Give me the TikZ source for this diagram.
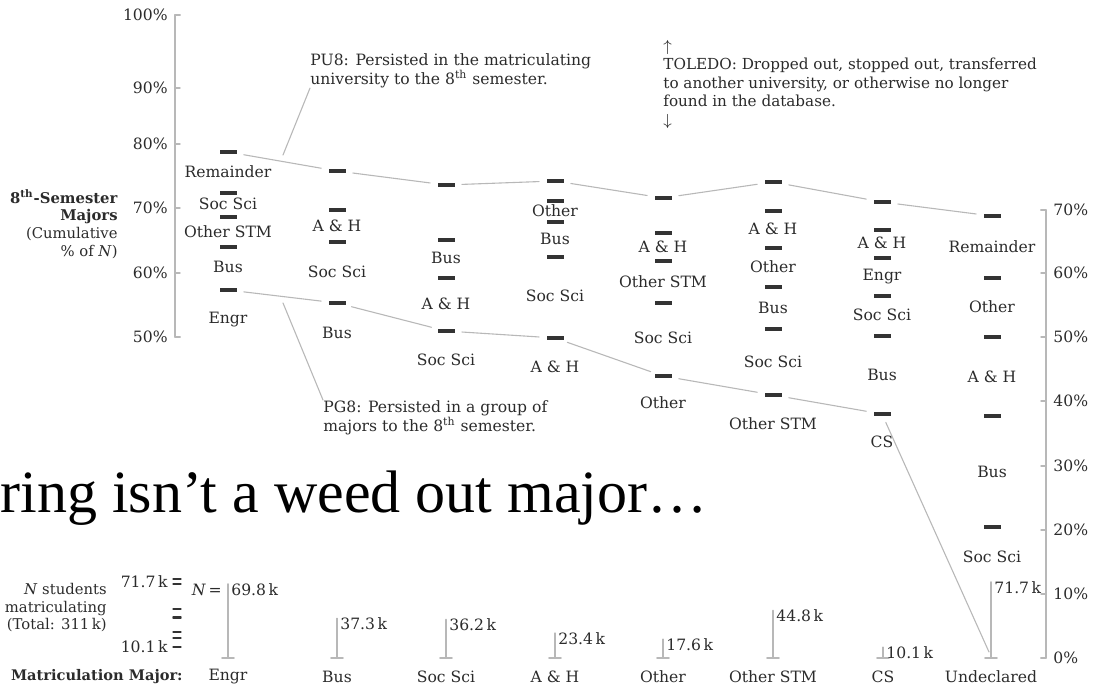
\documentclass[tikz,border=0pt]{standalone}
\usepackage{fontspec}
\setmainfont{DejaVu Serif}
\newfontfamily\titlefont{Liberation Serif}
\definecolor{linegray}{HTML}{B8B8B8}
\definecolor{dashgray}{HTML}{333333}
\definecolor{ink}{HTML}{2B2B2B}
\begin{document}
\fontsize{7.8}{9.5}\selectfont
\begin{tikzpicture}[x=0.5pt, y=-0.5pt, line join=round, line cap=round, text=ink,
    lvl/.style={fill=dashgray, inner sep=0pt, minimum width=8.5pt, minimum height=1.6pt},
    lab/.style={inner sep=0pt},
    note/.style={inner sep=0pt, align=left, anchor=north west},
    flow/.style={draw=linegray, line width=0.55pt, shorten <=3.5pt, shorten >=3.5pt},
    lead/.style={draw=linegray, line width=0.55pt},
    axis/.style={draw=linegray, line width=0.7pt},
    nbar/.style={draw=linegray, line width=0.9pt},
    mini/.style={draw=dashgray, line width=0.6pt}]
\useasboundingbox (0,0) rectangle (1098,688);

% left axis, 8th semester
\draw[axis] (180,15) -- (175,15) -- (175,337) -- (180,337);
\foreach \v/\y in {100/15,90/88,80/144,70/208,60/273,50/337}{
  \draw[axis] (175,\y) -- (180,\y);
  \node[lab, anchor=east] (yl\v) at (168,\y) {\v\%};
}
\node[lab, align=right, anchor=north east, font=\fontsize{7.4}{8.8}\selectfont] (sem) at (118,189)
  {\textbf{8\textsuperscript{th}-Semester}\\\textbf{Majors}\\(Cumulative\\\% of \textit{N})};

% right axis
\draw[axis] (1041,210) -- (1046,210) -- (1046,658) -- (1041,658);
\foreach \v/\y in {70/210,60/273,50/337,40/401,30/466,20/530,10/594,0/658}{
  \draw[axis] (1046,\y) -- (1041,\y);
  \node[lab, anchor=west] (yr\v) at (1053,\y) {\v\%};
}

% columns
\foreach \y [count=\k] in {152,193,217,247,290} \node[lvl] (eng\k) at (228,\y) {};
\foreach \t/\y [count=\k] in {Remainder/172,Soc Sci/204,Other STM/232,Bus/267,Engr/320}
  \node[lab] (engL\k) at (228,\y) {\t};
\foreach \y [count=\k] in {171,210,242,303} \node[lvl] (bus\k) at (337,\y) {};
\foreach \t/\y [count=\k] in {A \& H/226,Soc Sci/272,Bus/333}
  \node[lab] (busL\k) at (337,\y) {\t};
\foreach \y [count=\k] in {185,240,278,331} \node[lvl] (soc\k) at (446,\y) {};
\foreach \t/\y [count=\k] in {Bus/258,A \& H/304,Soc Sci/360}
  \node[lab] (socL\k) at (446,\y) {\t};
\foreach \y [count=\k] in {181,201,222,257,338} \node[lvl] (ah\k) at (555,\y) {};
\foreach \t/\y [count=\k] in {Other/211,Bus/239,Soc Sci/296,A \& H/367}
  \node[lab] (ahL\k) at (555,\y) {\t};
\foreach \y [count=\k] in {198,233,261,303,376} \node[lvl] (oth\k) at (663,\y) {};
\foreach \t/\y [count=\k] in {A \& H/247,Other STM/282,Soc Sci/338,Other/403}
  \node[lab] (othL\k) at (663,\y) {\t};
\foreach \y [count=\k] in {182,211,248,287,329,395} \node[lvl] (stm\k) at (773,\y) {};
\foreach \t/\y [count=\k] in {A \& H/229,Other/267,Bus/308,Soc Sci/362,Other STM/424}
  \node[lab] (stmL\k) at (773,\y) {\t};
\foreach \y [count=\k] in {202,230,258,296,336,414} \node[lvl] (cs\k) at (882,\y) {};
\foreach \t/\y [count=\k] in {A \& H/243,Engr/277,Soc Sci/315,Bus/375,CS/442}
  \node[lab] (csL\k) at (882,\y) {\t};
\foreach \y [count=\k] in {216,278,337,416,527} \node[lvl] (und\k) at (992,\y) {};
\foreach \t/\y [count=\k] in {Remainder/247,Other/307,A \& H/377,Bus/472,Soc Sci/557}
  \node[lab] (undL\k) at (992,\y) {\t};

% PU8 and PG8 lines
\foreach \a/\b in {eng1/bus1,bus1/soc1,soc1/ah1,ah1/oth1,oth1/stm1,stm1/cs1,cs1/und1}
  \draw[flow] (\a) -- (\b);
\foreach \a/\b in {eng5/bus4,bus4/soc4,soc4/ah5,ah5/oth5,oth5/stm6,stm6/cs6}
  \draw[flow] (\a) -- (\b);
\coordinate (und-foot) at (989,652);
\draw[flow, shorten >=0pt] (cs6) -- (und-foot);

% notes
\node[note] (pu8) at (310,53) {PU8: Persisted in the matriculating\\university to the 8\textsuperscript{th} semester.};
\coordinate (pu8-pt) at (283,155);
\draw[lead] (pu8-pt) -- (pu8.south west);
\node[note] (pg8) at (323,400) {PG8: Persisted in a group of\\majors to the 8\textsuperscript{th} semester.};
\coordinate (pg8-pt) at (283,303);
\draw[lead] (pg8-pt) -- (pg8.north west);
\node[note, font=\fontsize{7.6}{9.2}\selectfont] (toledo) at (663,40)
  {$\uparrow$\\TOLEDO: Dropped out, stopped out, transferred\\to another university, or otherwise no longer\\found in the database.\\$\downarrow$};

\node[lab, anchor=base west, text=black, font=\titlefont\fontsize{30}{36}\selectfont] (title) at (0,513)
  {ring isn’t a weed out major…};

% matriculation counts
\node[lab, align=right, anchor=north east, font=\fontsize{7.4}{8.8}\selectfont] (nstu) at (107,583)
  {\textit{N} students\\matriculating\\(Total: 311\,k)};
\node[lab, anchor=east] (nmax) at (168,582) {71.7\,k};
\node[lab, anchor=east] (nmin) at (168,647) {10.1\,k};
\foreach \y in {579,584,609,617,618,632,638,647}
  \draw[mini] (173,\y) -- (181,\y);
\node[lab, anchor=east] (neq) at (222,590) {\textit{N}\,=};
\foreach \x/\v/\t [count=\k] in {228/69.8/Engr,337/37.3/Bus,446/36.2/Soc Sci,555/23.4/A \& H,
    663/17.6/Other,773/44.8/Other STM,883/10.1/CS,991/71.7/Undeclared}{
  \draw[nbar] (\x,658) -- (\x,{658-1.06*\v});
  \draw[nbar] (\x-6,658) -- (\x+6,658);
  \node[lab, anchor=north west] (nv\k) at (\x+3,{658-1.06*\v-1}) {\v\,k};
  \node[lab] (mj\k) at (\x,677) {\t};
}
\node[lab, anchor=east, font=\fontsize{7.3}{8.8}\selectfont\bfseries] (mm) at (183,677) {Matriculation Major:};
\end{tikzpicture}
\end{document}
